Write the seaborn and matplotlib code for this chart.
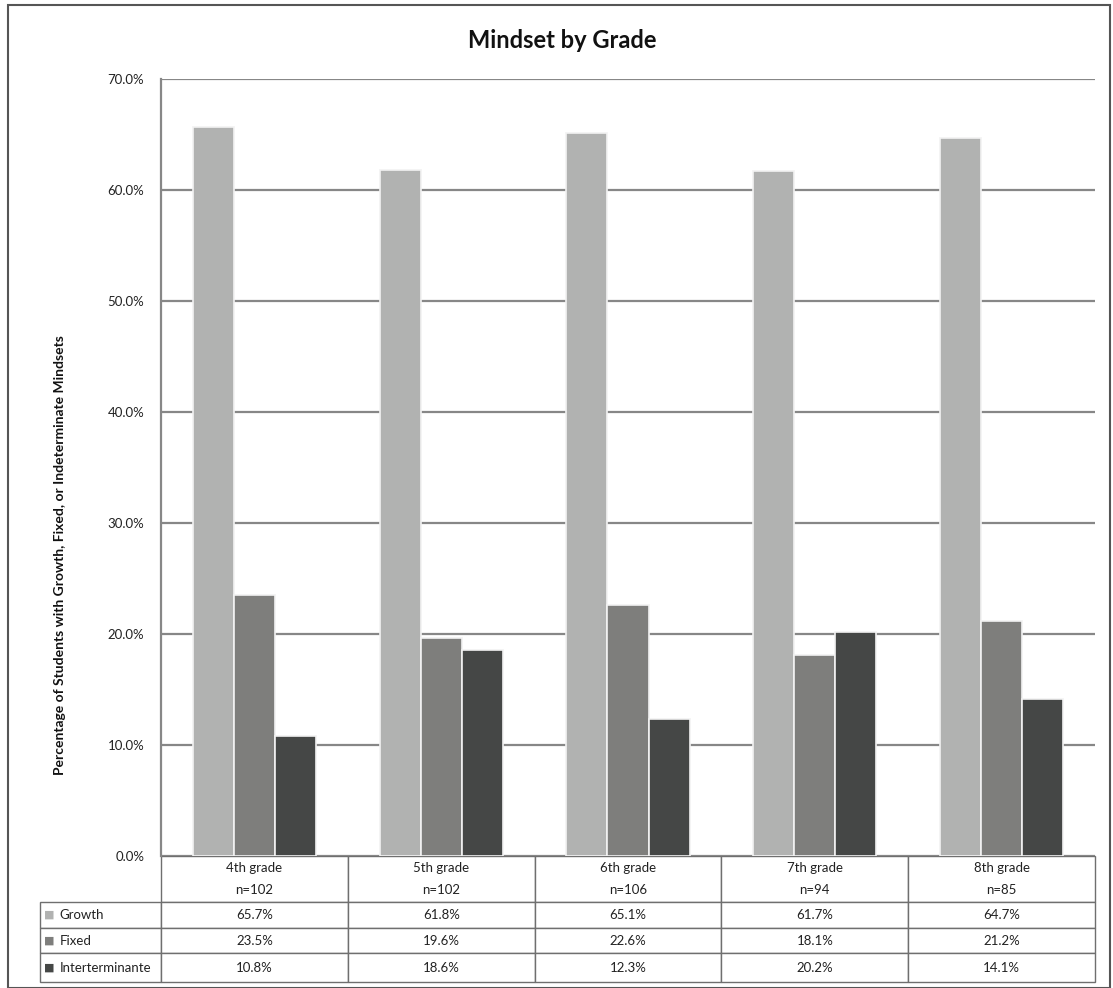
import pandas as pd
import numpy as np
import seaborn as sns
import matplotlib.pyplot as plt
from matplotlib.patches import Rectangle
from matplotlib.ticker import FuncFormatter

# Data
grades = ['4th grade', '5th grade', '6th grade', '7th grade', '8th grade']
n_counts = [102, 102, 106, 94, 85]
series = ['Growth', 'Fixed', 'Interterminante']
growth = [65.7, 61.8, 65.1, 61.7, 64.7]
fixed = [23.5, 19.6, 22.6, 18.1, 21.2]
indeterminate = [10.8, 18.6, 12.3, 20.2, 14.1]
colors = ['#b1b2b1', '#7e7e7c', '#454746']

sns.set_theme(style='white')
plt.rcParams['font.family'] = ['Lato', 'DejaVu Sans']

df = pd.DataFrame({
    'grade': grades * 3,
    'series': [s for s in series for _ in grades],
    'value': growth + fixed + indeterminate,
})

W, H = 1113, 988
fig = plt.figure(figsize=(W / 100, H / 100), dpi=100)
ax = fig.add_axes([161 / W, 1 - 856 / H, (1095 - 161) / W, (856 - 79) / H])

sns.barplot(data=df, x='grade', y='value', hue='series', palette=colors,
            width=0.66, edgecolor='#f2f2f2', linewidth=1.2, ax=ax, legend=False,
            zorder=3)

ax.set_ylim(0, 70)
ax.set_xlim(-0.5, len(grades) - 0.5)
ax.set_yticks(np.arange(0, 71, 10))
ax.yaxis.set_major_formatter(FuncFormatter(lambda v, _: f'{v:.1f}%'))
ax.tick_params(axis='y', length=0, labelsize=9.5, pad=12, colors='#222222')
ax.set_xticks([])
ax.set_xlabel('')
ax.set_ylabel('')
ax.grid(axis='y', color='#878787', linewidth=1.6, zorder=0)
ax.set_axisbelow(True)
for side in ['top', 'right', 'bottom']:
    ax.spines[side].set_visible(False)
ax.spines['left'].set_color('#878787')
ax.spines['left'].set_linewidth(1.6)

fig.text(562 / W, 1 - 40 / H, 'Mindset by Grade', fontsize=17,
         fontweight='bold', ha='center', va='center', color='#111111')

# Data table under the chart
label_w = 121
col_w = (1095 - 161) / len(grades)
total_w = label_w + col_w * len(grades)
table_h = 982 - 856
ax_w = 1095 - 161
ax_h = 856 - 79

cell_text = [[''] + [f'{g}\n\nn={n}' for g, n in zip(grades, n_counts)]]
for name, vals in zip(series, [growth, fixed, indeterminate]):
    cell_text.append([name] + [f'{v:.1f}%' for v in vals])

tbl = ax.table(cellText=cell_text,
               colWidths=[label_w / total_w] + [col_w / total_w] * len(grades),
               cellLoc='center',
               bbox=[-label_w / ax_w, -table_h / ax_h, total_w / ax_w, table_h / ax_h])
tbl.auto_set_font_size(False)
row_heights = [46, 26, 25, 29]
for (r, c), cell in tbl.get_celld().items():
    cell.set_height(row_heights[r])
    cell.set_edgecolor('#6f6f6f')
    cell.set_linewidth(1.0)
    cell.get_text().set_fontsize(9.5)
    cell.get_text().set_color('#222222')
    if r == 0:
        cell.get_text().set_linespacing(0.9)
    if c == 0:
        cell.get_text().set_ha('left')
        cell.PAD = 0.16
        if r == 0:
            cell.visible_edges = ''

# colored legend keys in the row labels
y = -46 / table_h
for i, (name, col) in enumerate(zip(series, colors)):
    h = row_heights[i + 1] / table_h
    yc = (y - h / 2) * table_h / ax_h
    ax.text(-label_w / ax_w + 4 / ax_w, yc, '■', color=col, fontsize=8,
            ha='left', va='center', transform=ax.transAxes,
            family=['DejaVu Sans'])
    y -= h

fig.text(60 / W, 1 - 555 / H,
         'Percentage of Students with Growth, Fixed, or Indeterminate Mindsets',
         rotation=90, ha='center', va='center', fontsize=10, fontweight='bold',
         color='#111111')

fig.patches.append(Rectangle((8 / W, 0), (1110 - 8) / W, 1 - 5 / H,
                             transform=fig.transFigure, fill=False,
                             edgecolor='#555555', linewidth=1.5))

fig.savefig('out.png', dpi=100)
